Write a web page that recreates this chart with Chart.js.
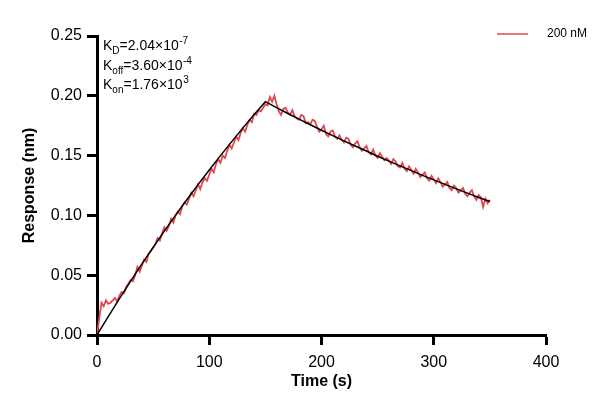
<!DOCTYPE html>
<html>
<head>
<meta charset="utf-8">
<script src="https://cdn.jsdelivr.net/npm/chart.js@4.4.1/dist/chart.umd.min.js"></script>
<style>
  html, body { margin: 0; padding: 0; background: #fff; }
  #wrap { width: 610px; height: 412px; }
</style>
</head>
<body>
<div id="wrap"><canvas id="mycanvas" width="610" height="412"></canvas></div>
<script>
// measured response, 200 nM (one sample every 2 s)
var sampleTime = [
  0, 2, 4, 6, 8, 10, 12, 14, 16, 18,
  20, 22, 24, 26, 28, 30, 32, 34, 36, 38,
  40, 42, 44, 46, 48, 50, 52, 54, 56, 58,
  60, 62, 64, 66, 68, 70, 72, 74, 76, 78,
  80, 82, 84, 86, 88, 90, 92, 94, 96, 98,
  100, 102, 104, 106, 108, 110, 112, 114, 116, 118,
  120, 122, 124, 126, 128, 130, 132, 134, 136, 138,
  140, 142, 144, 146, 148, 150, 152, 154, 156, 158,
  160, 162, 164, 166, 168, 170, 172, 174, 176, 178,
  180, 182, 184, 186, 188, 190, 192, 194, 196, 198,
  200, 202, 204, 206, 208, 210, 212, 214, 216, 218,
  220, 222, 224, 226, 228, 230, 232, 234, 236, 238,
  240, 242, 244, 246, 248, 250, 252, 254, 256, 258,
  260, 262, 264, 266, 268, 270, 272, 274, 276, 278,
  280, 282, 284, 286, 288, 290, 292, 294, 296, 298,
  300, 302, 304, 306, 308, 310, 312, 314, 316, 318,
  320, 322, 324, 326, 328, 330, 332, 334, 336, 338,
  340, 342, 344, 346, 348, 350
];
var response200 = [
  0.000, 0.014, 0.027, 0.024, 0.029, 0.026, 0.027, 0.029, 0.031, 0.028,
  0.033, 0.036, 0.035, 0.040, 0.043, 0.046, 0.045, 0.050, 0.057, 0.053,
  0.058, 0.063, 0.061, 0.068, 0.070, 0.073, 0.076, 0.081, 0.079, 0.085,
  0.090, 0.087, 0.091, 0.097, 0.094, 0.100, 0.103, 0.101, 0.108, 0.111,
  0.109, 0.114, 0.119, 0.116, 0.121, 0.126, 0.122, 0.128, 0.131, 0.129,
  0.134, 0.139, 0.136, 0.143, 0.147, 0.144, 0.150, 0.148, 0.154, 0.159,
  0.156, 0.161, 0.166, 0.163, 0.169, 0.173, 0.170, 0.176, 0.180, 0.178,
  0.185, 0.184, 0.188, 0.187, 0.190, 0.193, 0.192, 0.199, 0.195, 0.200,
  0.193, 0.187, 0.184, 0.189, 0.190, 0.186, 0.184, 0.188, 0.183, 0.181,
  0.180, 0.184, 0.183, 0.177, 0.178, 0.176, 0.180, 0.179, 0.174, 0.170,
  0.172, 0.175, 0.168, 0.166, 0.170, 0.171, 0.166, 0.164, 0.167, 0.163,
  0.161, 0.165, 0.164, 0.159, 0.157, 0.160, 0.162, 0.157, 0.154, 0.156,
  0.158, 0.153, 0.151, 0.155, 0.150, 0.148, 0.152, 0.149, 0.146, 0.148,
  0.146, 0.143, 0.147, 0.145, 0.141, 0.140, 0.144, 0.139, 0.137, 0.141,
  0.138, 0.135, 0.139, 0.136, 0.132, 0.134, 0.136, 0.131, 0.129, 0.133,
  0.130, 0.127, 0.131, 0.128, 0.124, 0.126, 0.128, 0.123, 0.121, 0.125,
  0.123, 0.119, 0.121, 0.123, 0.118, 0.116, 0.119, 0.121, 0.116, 0.113,
  0.117, 0.115, 0.107, 0.114, 0.110, 0.113
];

// global fit curve
var fitTime = [0, 10, 20, 30, 40, 50, 60, 70, 80, 90, 100, 110, 120, 130, 140, 150,
  160, 170, 180, 190, 200, 210, 220, 230, 240, 250, 260, 270, 280, 290, 300,
  310, 320, 330, 340, 350];
var fitValue = [0.0000, 0.0154, 0.0304, 0.0451, 0.0594, 0.0733, 0.0869, 0.1002,
  0.1131, 0.1257, 0.1380, 0.1500, 0.1617, 0.1732, 0.1843, 0.1951,
  0.1901, 0.1852, 0.1805, 0.1758, 0.1712, 0.1667, 0.1623, 0.1580, 0.1538,
  0.1495, 0.1454, 0.1414, 0.1374, 0.1335, 0.1297, 0.1259, 0.1222, 0.1186,
  0.1150, 0.1116];

var xTicks = [0, 100, 200, 300, 400];
var yTicks = [0, 0.05, 0.10, 0.15, 0.20, 0.25];
var seriesName = '200 nM';
var redColor = '#e2474f';
var font = 'Liberation Sans, Arial, sans-serif';

function toPoints(xs, ys) {
  var pts = [];
  for (var i = 0; i < xs.length; i++) pts.push({ x: xs[i], y: ys[i] });
  return pts;
}

// K values with sub/superscripts, top left of the plot
var kineticsPlugin = {
  id: 'kinetics',
  afterDraw: function(chart) {
    var ctx = chart.ctx;
    var rows = [
      { sub: 'D', main: '=2.04\u00d710', sup: '-7', y: 50 },
      { sub: 'off', main: '=3.60\u00d710', sup: '-4', y: 69.5 },
      { sub: 'on', main: '=1.76\u00d710', sup: '3', y: 89 }
    ];
    ctx.save();
    ctx.fillStyle = '#000';
    ctx.textBaseline = 'alphabetic';
    ctx.textAlign = 'left';
    rows.forEach(function(r) {
      var x = 103;
      ctx.font = '14px ' + font;
      ctx.fillText('K', x, r.y);
      x += ctx.measureText('K').width;
      ctx.font = '10px ' + font;
      ctx.fillText(r.sub, x, r.y + 4);
      x += ctx.measureText(r.sub).width;
      ctx.font = '14px ' + font;
      ctx.fillText(r.main, x, r.y);
      x += ctx.measureText(r.main).width;
      ctx.font = '10px ' + font;
      ctx.fillText(r.sup, x + 0.5, r.y - 6);
    });

    // legend
    ctx.strokeStyle = redColor;
    ctx.lineWidth = 1.5;
    ctx.beginPath();
    ctx.moveTo(497, 34);
    ctx.lineTo(528, 34);
    ctx.stroke();
    ctx.font = '12px ' + font;
    ctx.textBaseline = 'middle';
    ctx.fillText(seriesName, 547, 34);
    ctx.restore();
  }
};

var ctx = document.getElementById('mycanvas');

var chart = new Chart(ctx, {
  type: 'line',
  data: {
    datasets: [
      {
        label: 'Fit',
        data: toPoints(fitTime, fitValue),
        borderColor: '#000',
        borderWidth: 1.5,
        pointRadius: 0,
        tension: 0,
        fill: false
      },
      {
        label: seriesName,
        data: toPoints(sampleTime, response200),
        borderColor: redColor,
        borderWidth: 1.8,
        pointRadius: 0,
        tension: 0,
        fill: false
      }
    ]
  },
  options: {
    responsive: false,
    animation: false,
    layout: { padding: { top: 36, right: 64, left: 0, bottom: 0 } },
    plugins: {
      legend: { display: false },
      tooltip: { enabled: false }
    },
    scales: {
      x: {
        type: 'linear',
        min: 0,
        max: 400,
        afterFit: function(scale) { scale.height = 77; },
        afterBuildTicks: function(scale) {
          scale.ticks = xTicks.map(function(v) { return { value: v }; });
        },
        ticks: {
          color: '#000',
          font: { family: font, size: 16 },
          padding: 8,
          maxRotation: 0
        },
        grid: {
          drawOnChartArea: false,
          drawTicks: true,
          tickLength: 10,
          tickWidth: 3,
          tickColor: '#000'
        },
        border: { display: true, color: '#000', width: 3 },
        title: {
          display: true,
          text: 'Time (s)',
          color: '#000',
          font: { family: font, size: 16, weight: 'bold' },
          padding: { top: 0, bottom: 21 }
        }
      },
      y: {
        min: 0,
        max: 0.25,
        afterFit: function(scale) { scale.width = 97; },
        afterBuildTicks: function(scale) {
          scale.ticks = yTicks.map(function(v) { return { value: v }; });
        },
        ticks: {
          color: '#000',
          font: { family: font, size: 16 },
          padding: 5,
          callback: function(v) { return Number(v).toFixed(2); }
        },
        grid: {
          drawOnChartArea: false,
          drawTicks: true,
          tickLength: 10,
          tickWidth: 3,
          tickColor: '#000'
        },
        border: { display: true, color: '#000', width: 3 },
        title: {
          display: true,
          text: 'Response (nm)',
          color: '#000',
          font: { family: font, size: 16, weight: 'bold' },
          padding: { top: 20, bottom: 0 }
        }
      }
    }
  },
  plugins: [kineticsPlugin]
});
</script>
</body>
</html>
